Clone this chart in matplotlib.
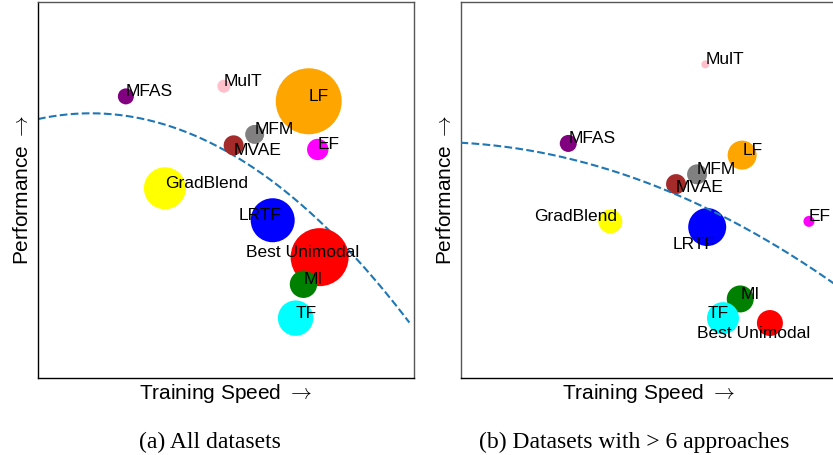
import numpy as np
import matplotlib
matplotlib.use("Agg")
import matplotlib.pyplot as plt

plt.rcParams['font.family'] = ['Liberation Sans', 'DejaVu Sans']
plt.rcParams['mathtext.fontset'] = 'cm'

methods = ["MFAS", "MulT", "LF", "MFM", "MVAE", "EF", "GradBlend", "LRTF",
           "Best Unimodal", "MI", "TF"]
colors = ["purple", "pink", "orange", "gray", "brown", "magenta", "yellow",
          "blue", "red", "green", "cyan"]

# Panel (a): all datasets (arbitrary units)
speed_a = [2.34, 4.95, 7.21, 5.77, 5.21, 7.45, 3.38, 6.25, 7.50, 7.07, 6.86]
perf_a = [7.48, 7.75, 7.35, 6.47, 6.18, 6.07, 5.04, 4.19, 3.21, 2.49, 1.59]
size_a = [133, 88, 2258, 187, 207, 237, 914, 1004, 1744, 389, 650]
trend_a_x = [0.0, 1.33, 5.19, 7.50, 9.89]
trend_a_y = [6.90, 7.00, 5.92, 4.19, 1.46]

# Panel (b): datasets with > 6 approaches
speed_b = [2.87, 6.52, 7.50, 6.30, 5.74, 9.28, 3.99, 6.57, 8.24, 7.45, 6.99]
perf_b = [6.23, 8.33, 5.92, 5.41, 5.15, 4.16, 4.16, 4.01, 1.46, 2.10, 1.59]
size_b = [150, 33, 436, 207, 207, 63, 299, 749, 350, 378, 531]
trend_b_x = [0.03, 2.93, 5.74, 7.18, 9.92]
trend_b_y = [6.26, 5.78, 4.91, 4.19, 2.52]

# label placement styles: (dx pt, dy pt, ha, va)
default = (0, 0, "left", "baseline")
lab_a = {"MVAE": (0, 1.5, "left", "top"),
         "LRTF": (6, 0, "right", "baseline"),
         "Best Unimodal": (-12, 0, "center", "baseline")}
lab_b = {"MVAE": (0, 3, "left", "top"),
         "GradBlend": (5, 0, "right", "baseline"),
         "LRTF": (6, -7, "right", "top"),
         "TF": (-11, 0, "left", "baseline"),
         "Best Unimodal": (-11.5, -11, "center", "baseline")}

fig = plt.figure(figsize=(8.33, 4.55), dpi=100)
W, H = 833, 455
ax_a = fig.add_axes([38 / W, 1 - 378 / H, 375.5 / W, 376.5 / H])
ax_b = fig.add_axes([460.5 / W, 1 - 378 / H, 375.5 / W, 376.5 / H])


def draw(ax, sx, py, sz, tx, ty, labs, curve_on_top, xend):
    coef = np.polyfit(tx, ty, 2)
    xs = np.linspace(0, xend, 200)
    ax.plot(xs, np.polyval(coef, xs), ls="--", color="#1f77b4", lw=1.5,
            zorder=3 if curve_on_top else 1)
    for i, m in enumerate(methods):
        ax.scatter([sx[i]], [py[i]], s=sz[i], color=colors[i],
                   edgecolors="none", zorder=2)
    for i, m in enumerate(methods):
        dx, dy, ha, va = labs.get(m, default)
        ax.annotate(m, (sx[i], py[i]), xytext=(dx, dy),
                    textcoords="offset points", ha=ha, va=va,
                    fontsize=12.5, color="black", zorder=4)
    ax.set_xlim(0, 10)
    ax.set_ylim(0, 10)
    ax.set_xticks([])
    ax.set_yticks([])
    ax.set_xlabel("Training Speed $\\rightarrow$", fontsize=15, labelpad=3)
    ax.set_ylabel("Performance $\\rightarrow$", fontsize=15, labelpad=4)
    for sp in ax.spines.values():
        sp.set_linewidth(1.0)


draw(ax_a, speed_a, perf_a, size_a, trend_a_x, trend_a_y, lab_a, False, 9.89)
draw(ax_b, speed_b, perf_b, size_b, trend_b_x, trend_b_y, lab_b, True, 10.0)

for sp in ["top", "right"]:
    ax_a.spines[sp].set_color("#555555")
ax_b.spines["top"].set_color("#555555")
ax_b.spines["left"].set_color("#555555")

fig.text(210 / W, 1 - 448 / H, "(a) All datasets", ha="center",
         va="baseline", fontsize=17, family="Liberation Serif")
fig.text(634 / W, 1 - 448 / H, "(b) Datasets with > 6 approaches",
         ha="center", va="baseline", fontsize=17, family="Liberation Serif")

fig.savefig("out.png", dpi=100)
